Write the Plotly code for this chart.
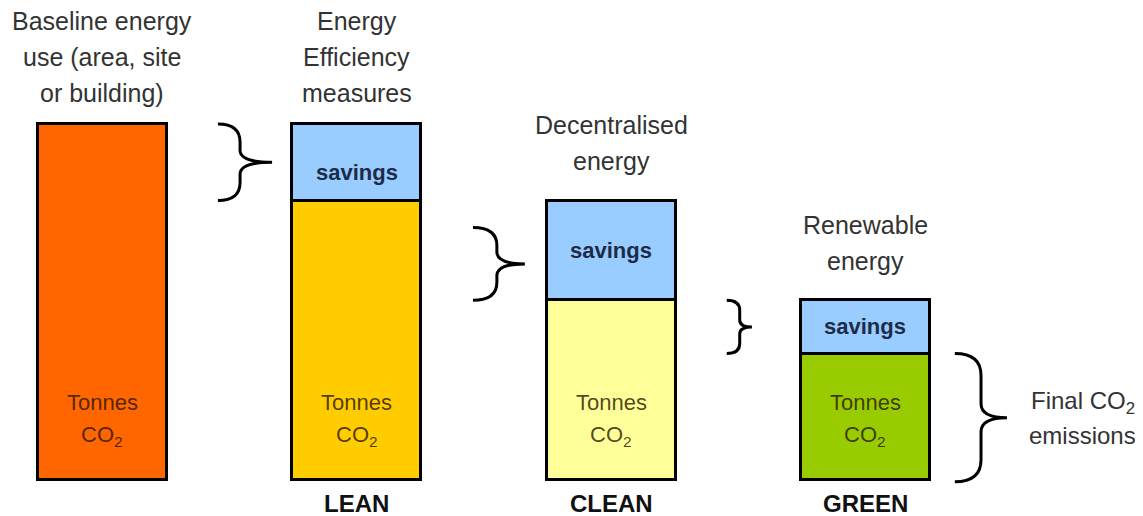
import plotly.graph_objects as go

# ---- data (baseline = 100) ----
stages = ["Baseline", "LEAN", "CLEAN", "GREEN"]
stage_labels = ["", "LEAN", "CLEAN", "GREEN"]
tonnes_co2 = [100, 78.5, 50.5, 35.5]
savings = [None, 21.5, 28, 15]
headings = [
    ["Baseline energy", "use (area, site", "or building)"],
    ["Energy", "Efficiency", "measures"],
    ["Decentralised", "energy"],
    ["Renewable", "energy"],
]
bar_colors = ["#FF6600", "#FFCC00", "#FFFF99", "#99CC00"]
savings_color = "#99CCFF"

xs = list(range(len(stages)))
FONT = "Liberation Sans, Arial, sans-serif"

fig = go.Figure()
fig.add_trace(go.Bar(
    x=xs, y=tonnes_co2, width=0.507,
    marker=dict(color=bar_colors, line=dict(color="black", width=3)),
    hoverinfo="skip", showlegend=False,
))
fig.add_trace(go.Bar(
    x=xs, y=savings, base=tonnes_co2, width=0.507,
    marker=dict(color=savings_color, line=dict(color="black", width=3)),
    hoverinfo="skip", showlegend=False,
))

ann = []
tops = [c + (s or 0) for c, s in zip(tonnes_co2, savings)]
gaps = [31, 31, 40, 39]
LINE = 36
for i, lines in enumerate(headings):
    n = len(lines)
    for k, t in enumerate(lines):
        ann.append(dict(x=i, y=tops[i], xref="x", yref="y", text=t, showarrow=False,
                        yanchor="middle", yshift=gaps[i] + (n - 1 - k) * LINE,
                        font=dict(family=FONT, size=25, color="#333333")))
    # Tonnes CO2 inside the bars
    for t, sh in (("Tonnes", 78), ("CO<sub>2</sub>", 44)):
        ann.append(dict(x=i, y=0, xref="x", yref="y", text=t, showarrow=False,
                        yanchor="middle", yshift=sh,
                        font=dict(family=FONT, size=22, color="rgba(40,20,0,0.8)")))
    if savings[i]:
        ann.append(dict(x=i, y=tonnes_co2[i] + savings[i] / 2, xref="x", yref="y",
                        text="<b>savings</b>", showarrow=False, yanchor="middle",
                        yshift=-10 if i == 1 else 0,
                        font=dict(family=FONT, size=22, color="#1c2c48")))
    if stage_labels[i]:
        ann.append(dict(x=i, y=0, xref="x", yref="y", text="<b>" + stage_labels[i] + "</b>",
                        showarrow=False, yanchor="middle", yshift=-23,
                        font=dict(family=FONT, size=24, color="#111111")))

# final emissions label
for t, sh in (("Final CO<sub>2</sub>", 14), ("emissions", -19)):
    ann.append(dict(x=3.855, y=tonnes_co2[3] / 2, xref="x", yref="y", text=t, showarrow=False,
                    yanchor="middle", yshift=sh,
                    font=dict(family=FONT, size=24, color="#333333")))

# ---- curly braces ----
PX_Y = 3.56  # pixels per y unit


def brace(xl, xm, xr, ytop, ybot, r_px, tip_px):
    r = r_px / PX_Y
    tp = tip_px / PX_Y
    ym = (ytop + ybot) / 2
    return (f"M {xl},{ytop} Q {xm},{ytop} {xm},{ytop - r} "
            f"L {xm},{ym + tp} Q {xm},{ym} {xr},{ym} "
            f"Q {xm},{ym} {xm},{ym - tp} "
            f"L {xm},{ybot + r} Q {xm},{ybot} {xl},{ybot}")


brace_specs = [
    # (left x, vertical x, tip x, top, bottom, corner px, tip px)
    (0.454, 0.541, 0.667, tops[1], tonnes_co2[1], 18, 12),
    (1.457, 1.551, 1.661, tops[2] - 7.6, tonnes_co2[2], 18, 12),
    (2.455, 2.506, 2.554, tops[3], tonnes_co2[3], 10, 7),
    (3.352, 3.455, 3.557, tonnes_co2[3], -0.5, 22, 14),
]
shapes = [dict(type="path", xref="x", yref="y",
               path=brace(*b), line=dict(color="black", width=3))
          for b in brace_specs]

# the page body has an 8px margin: size the figure to fit the window
fig.update_layout(
    width=1135, height=508,
    margin=dict(l=0, r=0, t=0, b=0),
    paper_bgcolor="white", plot_bgcolor="white",
    barmode="overlay", bargap=0,
    xaxis=dict(range=[-0.3716, 4.092], visible=False, fixedrange=True),
    yaxis=dict(range=[-10.11, 132.58], visible=False, fixedrange=True),
    annotations=ann, shapes=shapes,
    showlegend=False,
)
fig.write_html("out.html")
